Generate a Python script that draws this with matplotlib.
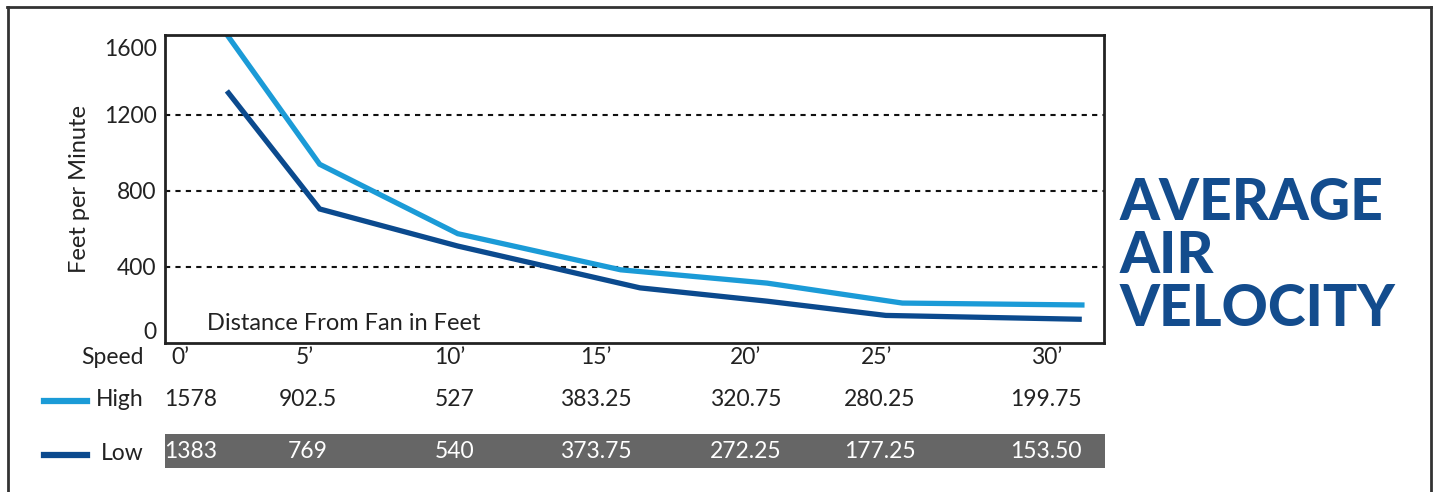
import matplotlib
matplotlib.use('Agg')
import matplotlib.pyplot as plt
from matplotlib.lines import Line2D
from matplotlib.patches import Rectangle

# values
distance_labels = ['0’', '5’', '10’', '15’', '20’', '25’', '30’']
high_table = ['1578', '902.5', '527', '383.25', '320.75', '280.25', '199.75']
low_table = ['1383', '769', '540', '373.75', '272.25', '177.25', '153.50']

# plotted lines (feet, fpm) as drawn in the chart
high_x = [0.3, 3.6, 8.6, 14.5, 19.8, 24.7, 31.2]
high_y = [1610, 940, 575, 385, 315, 210, 200]
low_x = [0.3, 3.6, 8.6, 15.2, 19.8, 24.1, 31.1]
low_y = [1315, 705, 510, 290, 220, 145, 125]

yticks = [0, 400, 800, 1200, 1600]

HIGH = '#1b9bd7'
LOW = '#0b4a8e'
W, H = 1434, 492

plt.rcParams['font.family'] = ['Lato', 'DejaVu Sans']

fig = plt.figure(figsize=(W / 100, H / 100), dpi=100)

def fx(px):
    return px / W

def fy(py):
    return 1 - py / H

ax = fig.add_axes([fx(165), fy(343), (1104 - 165) / W, (343 - 35) / H])
ax.plot(high_x, high_y, color=HIGH, lw=3.8, solid_joinstyle='miter')
ax.plot(low_x, low_y, color=LOW, lw=3.8, solid_joinstyle='miter')
ax.set_xlim(-2, 32)
ax.set_ylim(0, 1620)
ax.set_yticks(yticks)
ax.set_yticklabels([str(v) for v in yticks], fontsize=16.5, color='#222222')
labels = ax.get_yticklabels()
labels[0].set_va('bottom')
labels[-1].set_va('top')
ax.set_xticks([])
ax.tick_params(axis='y', length=0, pad=6)
for v in yticks[1:-1]:
    ax.axhline(v, color='#111111', lw=1.5, ls=(0, (2.5, 2.5)), zorder=0)
for s in ax.spines.values():
    s.set_color('#222222')
    s.set_linewidth(2)
ax.set_ylabel('Feet per Minute', fontsize=17, color='#222222', labelpad=10)
ax.text(0.045, 0.03, 'Distance From Fan in Feet', transform=ax.transAxes,
        fontsize=17, color='#222222', va='bottom')

# outer frame
fig.add_artist(Line2D([fx(8), fx(8)], [0, fy(7)], color='#333333', lw=2))
fig.add_artist(Line2D([fx(7), fx(1431)], [fy(7), fy(7)], color='#333333', lw=2))
fig.add_artist(Line2D([fx(1431), fx(1431)], [0, fy(7)], color='#333333', lw=2))

# table under the chart
speed_px = [180, 305, 450, 596, 745, 877, 1047]
value_px = [191, 308, 455, 596, 746, 880, 1046]
fig.add_artist(Rectangle((fx(165), fy(468)), (1105 - 165) / W, 34 / H,
                         transform=fig.transFigure, color='#666666', lw=0))
fig.text(fx(144), fy(358), 'Speed', ha='right', va='center', fontsize=16.5, color='#222222')
fig.text(fx(144), fy(400), 'High', ha='right', va='center', fontsize=16.5, color='#222222')
fig.text(fx(144), fy(453), 'Low', ha='right', va='center', fontsize=16.5, color='#222222')
fig.add_artist(Line2D([fx(44), fx(87)], [fy(401), fy(401)], color=HIGH, lw=4.5))
fig.add_artist(Line2D([fx(44), fx(87)], [fy(455), fy(455)], color=LOW, lw=4.5))
for i in range(len(distance_labels)):
    fig.text(fx(speed_px[i]), fy(358), distance_labels[i], ha='center', va='center',
             fontsize=16.5, color='#222222')
    fig.text(fx(value_px[i]), fy(400), high_table[i], ha='center', va='center',
             fontsize=16.5, color='#222222')
    fig.text(fx(value_px[i]), fy(452), low_table[i], ha='center', va='center',
             fontsize=16.5, color='white')

# title
for i, word in enumerate(['AVERAGE', 'AIR', 'VELOCITY']):
    fig.text(fx(1120), fy(220 + 53 * i), word, ha='left', va='baseline',
             fontsize=41, fontweight='black', color='#134c8d')

fig.savefig('out.png', dpi=100)
